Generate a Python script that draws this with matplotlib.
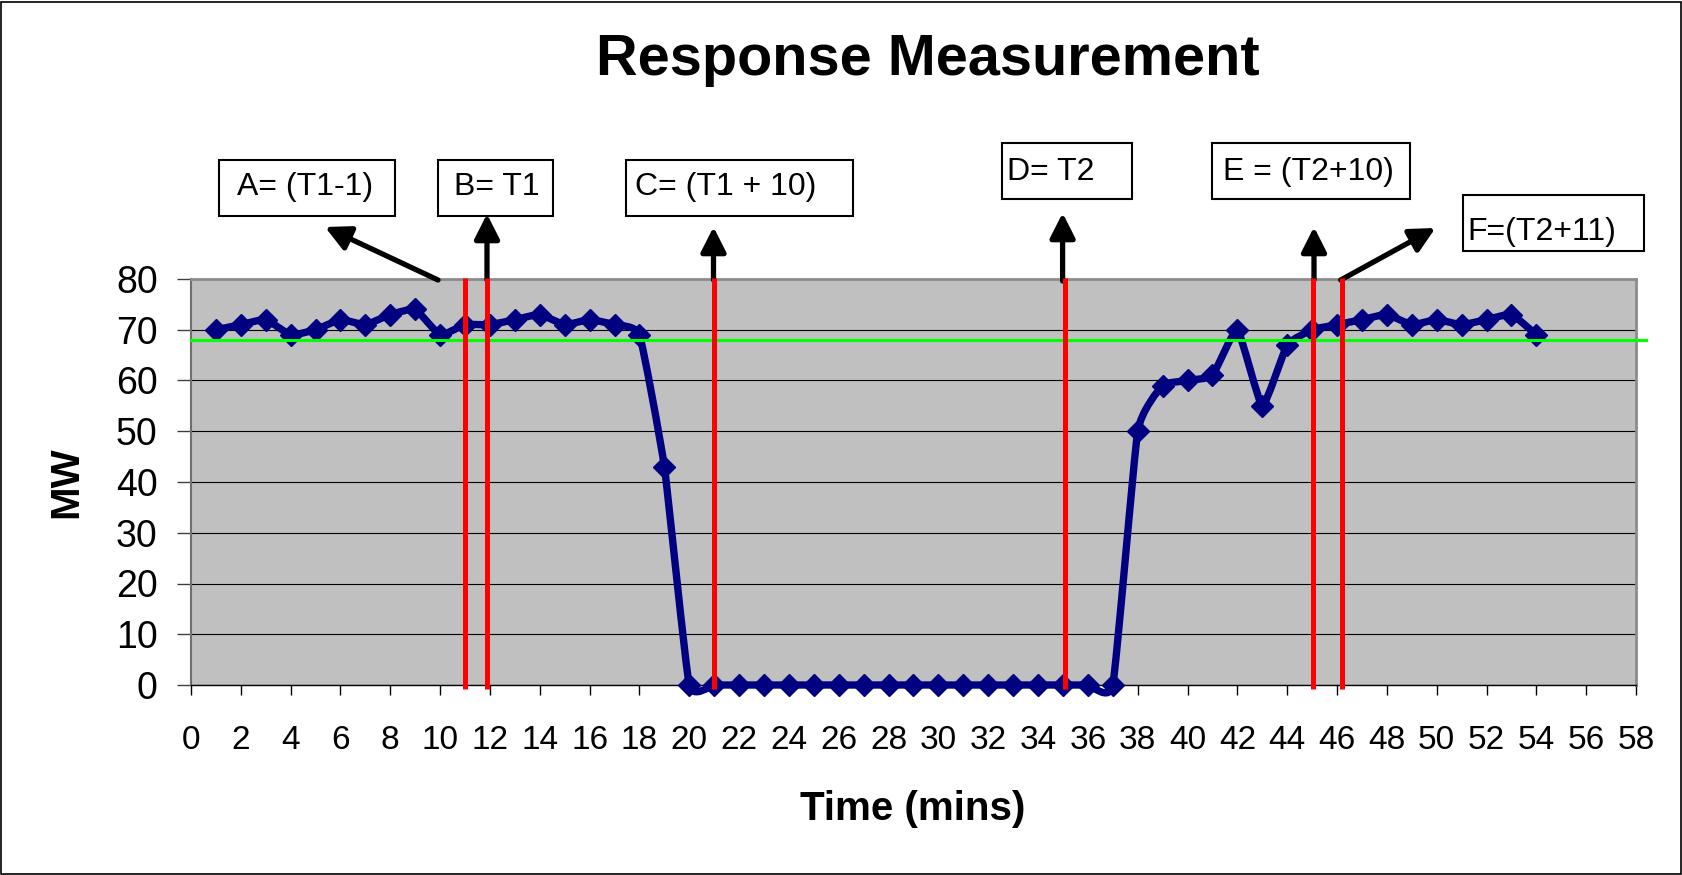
import matplotlib
matplotlib.use("Agg")
import matplotlib.pyplot as plt
from matplotlib.path import Path
from matplotlib.patches import PathPatch, Rectangle

plt.rcParams["font.family"] = ["Liberation Sans", "DejaVu Sans"]

# data
minutes = list(range(1, 55))
mw = [70, 71, 72, 69, 70, 72, 71, 73, 74, 69,
      71, 71, 72, 73, 71, 72, 71, 69, 43,
      0, 0, 0, 0, 0, 0, 0, 0, 0, 0, 0, 0, 0, 0, 0, 0, 0, 0,
      50, 59, 60, 61, 70, 55, 67, 70, 71, 72, 73, 71, 72, 71, 72, 73, 69]
threshold = 68
event_x = [11.0, 11.9, 21.0, 35.1, 45.05, 46.2]
event_labels = ["A= (T1-1)", "B= T1", "C= (T1 + 10)", "D= T2", "E = (T2+10)", "F=(T2+11)"]
x_ticks = list(range(0, 59, 2))
y_ticks = list(range(0, 81, 10))

W, H = 1683, 875

# label boxes in pixels (left, top, right, bottom), text x, text baseline
boxes = [(219, 160, 395, 216, 237, 195),
         (438, 160, 553, 216, 454, 195),
         (626, 160, 853, 216, 635, 195),
         (1002, 143, 1132, 199, 1007, 180),
         (1212, 143, 1410, 199, 1223, 180),
         (1463, 195, 1644, 251, 1467, 240)]
# arrows in pixels: tail, tip
arrows = [((438, 280), (325, 227)),
          ((487, 280), (487, 214)),
          ((713.5, 280), (713.5, 227)),
          ((1062.6, 281), (1062.6, 213)),
          ((1314, 280), (1314, 227)),
          ((1340.7, 280), (1435.4, 228))]


def smooth_path(xs, ys, k=0.07):
    # excel-like smoothed line, bezier segments between the data points
    verts = [(xs[0], ys[0])]
    codes = [Path.MOVETO]
    n = len(xs)
    for i in range(n - 1):
        x0, y0 = xs[max(i - 1, 0)], ys[max(i - 1, 0)]
        x1, y1 = xs[i], ys[i]
        x2, y2 = xs[i + 1], ys[i + 1]
        x3, y3 = xs[min(i + 2, n - 1)], ys[min(i + 2, n - 1)]
        verts += [(x1 + k * (x2 - x0), y1 + k * (y2 - y0)),
                  (x2 - k * (x3 - x1), y2 - k * (y3 - y1)),
                  (x2, y2)]
        codes += [Path.CURVE4] * 3
    return Path(verts, codes)


fig = plt.figure(figsize=(W / 100, H / 100), dpi=100)
ax = fig.add_axes([191 / W, 1 - 685 / H, (1636 - 191) / W, (685 - 279) / H])
ax.set_facecolor("#C0C0C0")
ax.set_xlim(0, 58)
ax.set_ylim(0, 80)

ax.yaxis.grid(True, color="black", lw=0.8)
ax.set_axisbelow(True)

line = PathPatch(smooth_path(minutes, mw), fill=False, edgecolor="#000080",
                 lw=5.3, joinstyle="round", capstyle="round", zorder=3, clip_on=False)
ax.add_patch(line)
ax.plot(minutes, mw, linestyle="none", marker="D", ms=11, color="#000080",
        mec="#000080", mew=1, zorder=3, clip_on=False)

ax.axhline(threshold, xmin=0, xmax=1.0067, color="#00FF00", lw=2.2, zorder=4, clip_on=False)
ax.vlines(event_x, -0.8, 80.2, colors="#FF0000", lw=3.6, zorder=5, clip_on=False)

for side in ["top", "right"]:
    ax.spines[side].set_color("#8C8C8C")
    ax.spines[side].set_linewidth(2)
ax.spines["left"].set_color("#707070")
ax.spines["left"].set_linewidth(1.5)
ax.spines["bottom"].set_color("black")
ax.spines["bottom"].set_linewidth(1)

ax.set_xticks(x_ticks)
ax.set_yticks(y_ticks)
ax.tick_params(axis="x", length=7, width=1, pad=22, labelsize=24, colors="black")
ax.tick_params(axis="y", length=10, width=1, pad=14, labelsize=27, color="#404040")

fig.text(928 / W, 1 - 75 / H, "Response Measurement", fontsize=41.5,
         fontweight="bold", ha="center", va="baseline")
fig.text(912.5 / W, 1 - 820 / H, "Time (mins)", fontsize=29,
         fontweight="bold", ha="center", va="baseline")
fig.text(66 / W, 1 - 482 / H, "MW", fontsize=29, fontweight="bold",
         rotation=90, ha="center", va="center")

for (l, t, r, b, tx, tb), label in zip(boxes, event_labels):
    fig.patches.append(Rectangle((l / W, 1 - b / H), (r - l) / W, (b - t) / H,
                                 transform=fig.transFigure, facecolor="white",
                                 edgecolor="black", lw=1.5))
    fig.text(tx / W, 1 - tb / H, label, fontsize=23, ha="left", va="baseline")

for tail, tip in arrows:
    ax.annotate("", xy=(tip[0], H - tip[1]), xytext=(tail[0], H - tail[1]),
                xycoords="figure pixels", textcoords="figure pixels",
                arrowprops=dict(arrowstyle="-|>,head_length=0.75,head_width=0.38",
                                mutation_scale=20, lw=3.8, color="black",
                                shrinkA=0, shrinkB=0), annotation_clip=False)

# outer border of the chart
fig.patches.append(Rectangle((1.5 / W, 1.5 / H), (W - 3) / W, (H - 3) / H,
                             transform=fig.transFigure, fill=False,
                             edgecolor="black", lw=1.2))

fig.savefig("out.png", dpi=100)
plt.close(fig)
